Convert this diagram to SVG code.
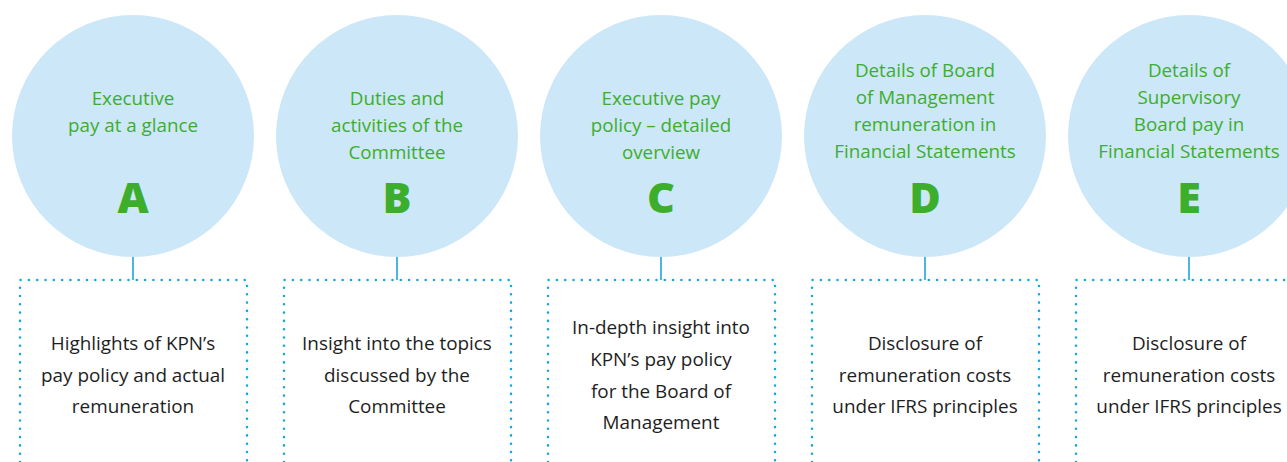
<svg xmlns="http://www.w3.org/2000/svg" width="1287" height="462" viewBox="0 0 1287 462">
<style>
.c{fill:#cce7f8}
.t{font-family:"Open Sans","Liberation Sans",sans-serif;font-size:18.8px;fill:#3dae2b;text-anchor:middle}
.L{font-family:"Open Sans","Liberation Sans",sans-serif;font-size:43px;font-weight:800;fill:#3dae2b;text-anchor:middle}
.b{font-family:"Open Sans","Liberation Sans",sans-serif;font-size:18.9px;fill:#1e1e1e;text-anchor:middle}
.box{fill:none;stroke:#1aa6df;stroke-width:2.6;stroke-linecap:round;stroke-dasharray:0 8.3}
.ln{stroke:#1aa6df;stroke-width:1.6}
</style>
<rect width="1287" height="462" fill="#fff"/>
<g id="connectors">
<line class="ln" x1="133" y1="250" x2="133" y2="280"/>
<line class="ln" x1="397" y1="250" x2="397" y2="280"/>
<line class="ln" x1="661" y1="250" x2="661" y2="280"/>
<line class="ln" x1="925" y1="250" x2="925" y2="280"/>
<line class="ln" x1="1189" y1="250" x2="1189" y2="280"/>
</g>
<g id="nodeA">
<circle class="c" cx="133" cy="136" r="121"/>
<text class="t" x="133" y="105">Executive</text>
<text class="t" x="133" y="132">pay at a glance</text>
<text class="L" x="133" y="213">A</text>
<path class="box" d="M20 462V280H247V462"/>
<text class="b" x="133" y="350">Highlights of KPN’s</text>
<text class="b" x="133" y="382">pay policy and actual</text>
<text class="b" x="133" y="413">remuneration</text>
</g>
<g id="nodeB">
<circle class="c" cx="397" cy="136" r="121"/>
<text class="t" x="397" y="105">Duties and</text>
<text class="t" x="397" y="132">activities of the</text>
<text class="t" x="397" y="159">Committee</text>
<text class="L" x="397" y="213">B</text>
<path class="box" d="M284 462V280H511V462"/>
<text class="b" x="397" y="350">Insight into the topics</text>
<text class="b" x="397" y="382">discussed by the</text>
<text class="b" x="397" y="413">Committee</text>
</g>
<g id="nodeC">
<circle class="c" cx="661" cy="136" r="121"/>
<text class="t" x="661" y="105">Executive pay</text>
<text class="t" x="661" y="132">policy – detailed</text>
<text class="t" x="661" y="159">overview</text>
<text class="L" x="661" y="213">C</text>
<path class="box" d="M548 462V280H775V462"/>
<text class="b" x="661" y="334">In-depth insight into</text>
<text class="b" x="661" y="366">KPN’s pay policy</text>
<text class="b" x="661" y="398">for the Board of</text>
<text class="b" x="661" y="429">Management</text>
</g>
<g id="nodeD">
<circle class="c" cx="925" cy="136" r="121"/>
<text class="t" x="925" y="77">Details of Board</text>
<text class="t" x="925" y="104">of Management</text>
<text class="t" x="925" y="131">remuneration in</text>
<text class="t" x="925" y="158">Financial Statements</text>
<text class="L" x="925" y="213">D</text>
<path class="box" d="M812 462V280H1039V462"/>
<text class="b" x="925" y="350">Disclosure of</text>
<text class="b" x="925" y="382">remuneration costs</text>
<text class="b" x="925" y="413">under IFRS principles</text>
</g>
<g id="nodeE">
<circle class="c" cx="1189" cy="136" r="121"/>
<text class="t" x="1189" y="77">Details of</text>
<text class="t" x="1189" y="104">Supervisory</text>
<text class="t" x="1189" y="131">Board pay in</text>
<text class="t" x="1189" y="158">Financial Statements</text>
<text class="L" x="1189" y="213">E</text>
<path class="box" d="M1076 462V280H1303V462"/>
<text class="b" x="1189" y="350">Disclosure of</text>
<text class="b" x="1189" y="382">remuneration costs</text>
<text class="b" x="1189" y="413">under IFRS principles</text>
</g>
</svg>
